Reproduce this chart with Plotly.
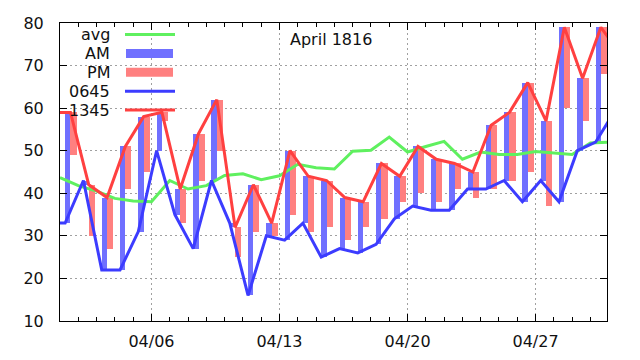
import datetime as dt
import plotly.graph_objects as go

# ---------------- data (April 1816) ----------------
days = list(range(1, 31))                     # day of month
reading_0645 = [33, 43, 22, 22, 31, 50, 35, 27, 43, 33, 16, 30, 29, 33, 25,
                27, 26, 28, 34, 37, 36, 36, 41, 41, 43, 38, 43, 38, 50, 52]
reading_1345 = [59, 42, 39, 51, 58, 59, 41, 54, 62, 32, 42, 33, 50, 44, 43,
                39, 38, 47, 44, 51, 48, 47, 45, 56, 59, 66, 57, 79, 67, 79]
reading_2145 = [49, 30, 27, 41, 45, 57, 33, 43, 50, 25, 31, 30, 35, 31, 32,
                29, 32, 34, 38, 40, 38, 41, 39, 41, 43, 45, 37, 60, 57, 68]
avg_values = [43.7, 41.8, 40.5, 38.8, 38.2, 38.0, 43.0, 41.0, 41.8, 44.2,
              44.6, 43.2, 44.1, 46.8, 46.0, 45.7, 49.9, 50.1, 53.2, 49.7,
              51.0, 52.2, 48.0, 49.7, 49.1, 49.1, 49.8, 49.5, 49.1, 51.8, 52.0]
# neighbouring readings (31 March and 1 May) that run off the plot edges
prev_0645, prev_1345 = 33, 59
next_0645, next_1345 = 59, 73

tick_dates = ["1816-04-06", "1816-04-13", "1816-04-20", "1816-04-27"]
tick_labels = ["04/06", "04/13", "04/20", "04/27"]
y_ticks = [10, 20, 30, 40, 50, 60, 70, 80]
title_text = "April 1816"
key_names = ["avg", "AM", "PM", "0645", "1345"]

# ---------------- styles ----------------
C_AVG = "#5ff05f"
C_AMBAR = "#7070ff"
C_PMBAR = "#ff8080"
C_AMLINE = "#3c3cff"
C_PMLINE = "#ff4040"
FONT = "DejaVu Sans"
FS = 16

base = dt.datetime(1816, 4, 1)


def at(day, h, m):
    return base + dt.timedelta(days=day - 1, hours=h, minutes=m)


t_am = [at(d, 6, 45) for d in days]
t_pm = [at(d, 13, 45) for d in days]
x_0645 = [at(0, 6, 45)] + t_am + [at(31, 6, 45)]
y_0645 = [prev_0645] + reading_0645 + [next_0645]
x_1345 = [at(0, 13, 45)] + t_pm + [at(31, 13, 45)]
y_1345 = [prev_1345] + reading_1345 + [next_1345]
x_avg = [at(d, 0, 0) for d in range(1, 32)]

HOUR = 3600 * 1000
am_center = [at(d, 10, 15) for d in days]
pm_center = [at(d, 17, 45) for d in days]

fig = go.Figure()
fig.add_trace(go.Scatter(x=x_avg, y=avg_values, mode="lines",
                         line=dict(color=C_AVG, width=3), name="avg"))
fig.add_trace(go.Bar(x=am_center, base=reading_0645,
                     y=[b - a for a, b in zip(reading_0645, reading_1345)],
                     width=[7 * HOUR] * len(days), marker=dict(color=C_AMBAR, line=dict(width=0)),
                     name="AM"))
fig.add_trace(go.Bar(x=pm_center, base=reading_1345,
                     y=[b - a for a, b in zip(reading_1345, reading_2145)],
                     width=[8 * HOUR] * len(days), marker=dict(color=C_PMBAR, line=dict(width=0)),
                     name="PM"))
fig.add_trace(go.Scatter(x=x_0645, y=y_0645, mode="lines",
                         line=dict(color=C_AMLINE, width=3), name="0645"))
fig.add_trace(go.Scatter(x=x_1345, y=y_1345, mode="lines",
                         line=dict(color=C_PMLINE, width=3), name="1345"))

L, R, T, B = 60, 33, 23, 39
W, H = 640, 360
PW, PH = W - L - R, H - T - B


def px(x):
    return (x - L) / PW


def py(y):
    return (H - B - y) / PH


grid = dict(showgrid=True, gridcolor="#a0a0a0", gridwidth=1, griddash="2px,3px")
fig.update_xaxes(type="date", range=[at(1, 0, 0), at(30, 21, 45)],
                 tickmode="array", tickvals=tick_dates, ticktext=tick_labels,
                 ticks="inside", ticklen=7, tickcolor="black", showline=True,
                 linecolor="black", linewidth=1, mirror="ticks", zeroline=False,
                 minor=dict(tickmode="array", tickvals=[at(d, 0, 0) for d in days],
                            ticks="inside", ticklen=4, tickcolor="black", showgrid=False),
                 tickfont=dict(family=FONT, size=FS, color="#111"),
                 ticklabelstandoff=6, automargin=False, **grid)
fig.update_yaxes(range=[10, 80], tickmode="array", tickvals=y_ticks,
                 ticks="inside", ticklen=7, tickcolor="black", showline=True,
                 linecolor="black", linewidth=1, mirror="ticks", zeroline=False,
                 tickfont=dict(family=FONT, size=FS, color="#111"),
                 ticklabelstandoff=12, automargin=False, **grid)

annotations = [dict(text=title_text, x=px(331), y=py(40), xref="paper", yref="paper",
                    xanchor="center", yanchor="middle", showarrow=False,
                    font=dict(family=FONT, size=FS, color="#111"))]
shapes = []
key_styles = [("line", C_AVG), ("box", C_AMBAR), ("box", C_PMBAR),
              ("line", C_AMLINE), ("line", C_PMLINE)]
for i, (name, (kind, col)) in enumerate(zip(key_names, key_styles)):
    yy = 34.5 + i * 18.9
    annotations.append(dict(text=name, x=px(112), y=py(yy), xref="paper", yref="paper",
                            xanchor="right", yanchor="middle", showarrow=False,
                            font=dict(family=FONT, size=FS, color="#111")))
    if kind == "line":
        shapes.append(dict(type="line", xref="paper", yref="paper",
                           x0=px(125), x1=px(175), y0=py(yy), y1=py(yy),
                           line=dict(color=col, width=3)))
    else:
        shapes.append(dict(type="rect", xref="paper", yref="paper",
                           x0=px(126), x1=px(173), y0=py(yy - 4.5), y1=py(yy + 4.5),
                           fillcolor=col, line=dict(width=0)))

fig.update_layout(width=W, height=H, margin=dict(l=L, r=R, t=T, b=B, pad=0),
                  plot_bgcolor="white", paper_bgcolor="white",
                  barmode="overlay", bargap=0, showlegend=False,
                  annotations=annotations, shapes=shapes,
                  font=dict(family=FONT, size=FS, color="#111"))

fig.write_html("out.html", config={"displayModeBar": False},
               post_script="document.body.style.margin='0px';document.body.style.padding='0px';")
